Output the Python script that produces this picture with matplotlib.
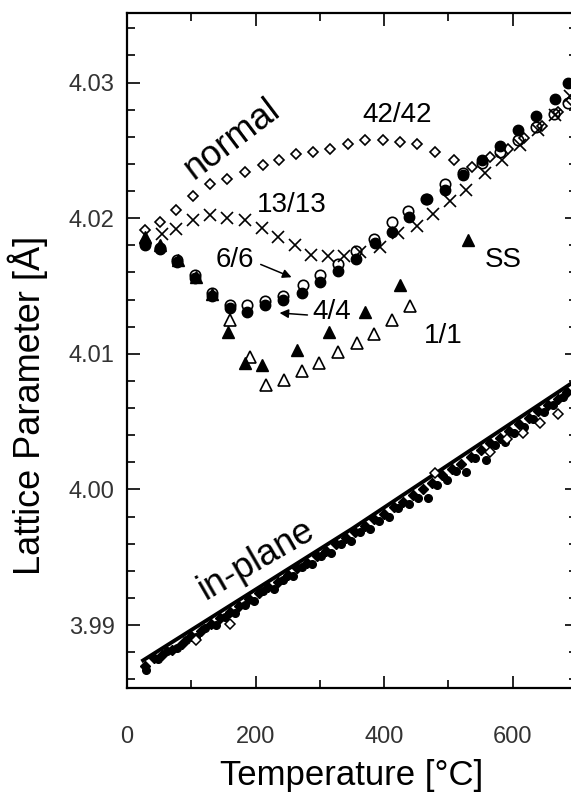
import matplotlib
matplotlib.use("Agg")
import matplotlib.pyplot as plt
from matplotlib.ticker import MultipleLocator

plt.rcParams['font.family'] = ['Liberation Sans', 'DejaVu Sans']

# normal (out-of-plane) lattice parameter, one list per superlattice
t_42 = [28, 51, 77, 103, 129, 155, 184, 212, 236, 263, 289, 316, 344, 370, 398,
        425, 451, 479, 508, 536, 565, 592, 618, 645, 670, 690]
a_42 = [4.0191, 4.0197, 4.0206, 4.0216, 4.0225, 4.0229, 4.0234, 4.0239, 4.0243,
        4.0247, 4.0249, 4.0251, 4.0255, 4.0258, 4.0258, 4.0256, 4.0255, 4.0249,
        4.0243, 4.0238, 4.0245, 4.0251, 4.0259, 4.0268, 4.0278, 4.0287]

t_13 = [54, 77, 103, 129, 155, 184, 210, 235, 261, 287, 313, 338, 362, 394, 422,
        451, 476, 502, 528, 557, 583, 611, 639, 666, 689]
a_13 = [4.0188, 4.0192, 4.0199, 4.0202, 4.0200, 4.0199, 4.0193, 4.0186, 4.0180,
        4.0173, 4.0172, 4.0172, 4.0175, 4.0179, 4.0189, 4.0194, 4.0203, 4.0213,
        4.0221, 4.0233, 4.0243, 4.0254, 4.0265, 4.0276, 4.0290]

t_6 = [28, 51, 78, 106, 132, 160, 186, 215, 243, 274, 300, 329, 357, 384, 412,
       437, 465, 494, 523, 552, 580, 608, 637, 665, 686]
a_6 = [4.0182, 4.0178, 4.0169, 4.0158, 4.0145, 4.0136, 4.0136, 4.0139, 4.0143,
       4.0151, 4.0158, 4.0166, 4.0176, 4.0185, 4.0197, 4.0205, 4.0214, 4.0225,
       4.0233, 4.0241, 4.0249, 4.0258, 4.0267, 4.0277, 4.0285]

t_4 = [28, 51, 78, 106, 132, 160, 186, 215, 243, 272, 300, 329, 357, 386, 412,
       439, 466, 495, 523, 553, 580, 609, 637, 666, 686]
a_4 = [4.0180, 4.0177, 4.0168, 4.0156, 4.0143, 4.0134, 4.0131, 4.0136, 4.0140,
       4.0145, 4.0153, 4.0161, 4.0170, 4.0182, 4.0190, 4.0201, 4.0214, 4.0221,
       4.0232, 4.0243, 4.0253, 4.0265, 4.0275, 4.0288, 4.0300]

t_1 = [160, 191, 217, 244, 272, 299, 328, 358, 384, 412, 440]
a_1 = [4.0125, 4.0098, 4.0077, 4.0081, 4.0087, 4.0093, 4.0101, 4.0108, 4.0115,
       4.0125, 4.0135]

t_ss = [28, 51, 79, 107, 132, 157, 184, 210, 264, 315, 370, 425, 531]
a_ss = [4.0186, 4.0180, 4.0169, 4.0157, 4.0144, 4.0116, 4.0093, 4.0092, 4.0103,
        4.0116, 4.0131, 4.0151, 4.0184]

# in-plane lattice parameter (two overlapping sets of filled points + open ones)
t_in = [28, 42, 55, 70, 85, 100, 115, 130, 145, 160, 175, 190, 205, 220, 235, 250,
        265, 280, 295, 310, 325, 340, 355, 370, 385, 400, 415, 430, 445, 460, 475,
        490, 505, 520, 535, 550, 565, 580, 595, 610, 625, 640, 655, 670, 685]
a_in = [3.9870, 3.9876, 3.9878, 3.9882, 3.9886, 3.9892, 3.9896, 3.9901, 3.9905,
        3.9910, 3.9914, 3.9919, 3.9924, 3.9928, 3.9932, 3.9937, 3.9942, 3.9946,
        3.9951, 3.9955, 3.9960, 3.9964, 3.9969, 3.9973, 3.9978, 3.9982, 3.9987,
        3.9991, 3.9996, 4.0000, 4.0005, 4.0011, 4.0015, 4.0019, 4.0024, 4.0029,
        4.0034, 4.0038, 4.0043, 4.0048, 4.0053, 4.0058, 4.0062, 4.0067, 4.0072]
t_in2 = [30, 48, 63, 78, 92, 108, 122, 138, 152, 168, 183, 198, 212, 228, 243, 258,
         272, 288, 302, 318, 333, 348, 362, 378, 392, 408, 422, 438, 452, 468, 482,
         498, 512, 528, 542, 558, 572, 588, 602, 618, 632, 648, 662, 678]
a_in2 = [3.9867, 3.9875, 3.9881, 3.9883, 3.9889, 3.9891, 3.9898, 3.9900, 3.9906,
         3.9909, 3.9915, 3.9918, 3.9925, 3.9927, 3.9933, 3.9936, 3.9943, 3.9945,
         3.9951, 3.9953, 3.9960, 3.9962, 3.9969, 3.9971, 3.9977, 3.9980, 3.9986,
         3.9989, 3.9994, 3.9994, 4.0003, 4.0007, 4.0014, 4.0013, 4.0023, 4.0022,
         4.0033, 4.0035, 4.0042, 4.0046, 4.0052, 4.0057, 4.0062, 4.0068]
t_in_open = [108, 160, 479, 564, 591, 616, 642, 670]
a_in_open = [3.9889, 3.9901, 4.0012, 4.0028, 4.0037, 4.0042, 4.0049, 4.0056]
t_fit = [25, 350, 700]
a_fit = [3.9874, 3.9971, 4.0081]

fig = plt.figure(figsize=(5.71, 7.93), dpi=100)
ax = fig.add_axes([0.2224, 0.1318, 0.7881, 0.8515])

ax.plot(t_fit, a_fit, '-', color='black', lw=2.8, zorder=3)
ax.plot(t_in, a_in, 'D', ms=5.5, color='black', ls='none', zorder=4)
ax.plot(t_in2, a_in2, 'o', ms=5.5, color='black', ls='none', zorder=4)
ax.plot(t_in_open, a_in_open, 'D', ms=5, mfc='white', mec='black', mew=1.1,
        ls='none', zorder=4)

ax.plot(t_42, a_42, 'D', ms=5.5, mfc='none', mec='black', mew=1.2, ls='none')
ax.plot(t_13, a_13, 'x', ms=8.5, color='black', mew=1.2, ls='none')
ax.plot(t_4, a_4, 'o', ms=7.5, color='black', ls='none')
ax.plot(t_6, a_6, 'o', ms=7.5, mfc='none', mec='black', mew=1.2, ls='none')
ax.plot(t_1, a_1, '^', ms=9, mfc='none', mec='black', mew=1.2, ls='none')
ax.plot(t_ss, a_ss, '^', ms=9, color='black', ls='none')

ax.text(163, 4.0258, 'normal', fontsize=26, rotation=37, ha='center', va='center')
ax.text(202, 3.9948, 'in-plane', fontsize=26, rotation=30, ha='center', va='center')
ax.text(420, 4.0276, '42/42', fontsize=20, ha='center', va='center')
ax.text(257, 4.0210, '13/13', fontsize=20, ha='center', va='center')
ax.text(168, 4.0169, '6/6', fontsize=20, ha='center', va='center')
ax.text(319, 4.0131, '4/4', fontsize=20, ha='center', va='center')
ax.text(492, 4.0113, '1/1', fontsize=20, ha='center', va='center')
ax.text(586, 4.0169, 'SS', fontsize=20, ha='center', va='center')
ax.annotate('', xy=(260, 4.01557), xytext=(204, 4.01667),
            arrowprops=dict(arrowstyle='-|>', color='black', lw=1.1, mutation_scale=13))
ax.annotate('', xy=(233, 4.01303), xytext=(285, 4.01285),
            arrowprops=dict(arrowstyle='-|>', color='black', lw=1.1, mutation_scale=13))

ax.set_xlim(0, 700)
ax.set_ylim(3.98533, 4.03511)
ax.xaxis.set_major_locator(MultipleLocator(200))
ax.xaxis.set_minor_locator(MultipleLocator(100))
ax.yaxis.set_major_locator(MultipleLocator(0.01))
ax.yaxis.set_minor_locator(MultipleLocator(0.002))
ax.yaxis.set_major_formatter(plt.FormatStrFormatter('%.2f'))
ax.tick_params(which='both', direction='in', top=True, right=True, width=1.2,
               labelsize=17, labelcolor='#333333')
ax.tick_params(which='major', length=9)
ax.tick_params(which='minor', length=5.5)
ax.tick_params(axis='x', pad=27)
ax.tick_params(axis='y', pad=9)
for s in ax.spines.values():
    s.set_linewidth(1.6)

ax.set_xlabel('Temperature [°C]', fontsize=25, labelpad=8)
ax.set_ylabel('Lattice Parameter [Å]', fontsize=26)
ax.yaxis.set_label_coords(-0.175, 0.42)

fig.savefig('out.png', dpi=100)
